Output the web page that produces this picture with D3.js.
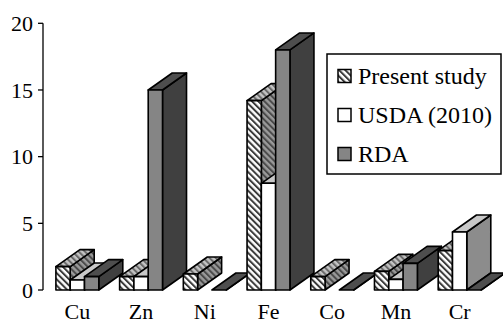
<!DOCTYPE html>
<html>
<head>
<meta charset="utf-8">
<script src="https://cdn.jsdelivr.net/npm/d3@7"></script>
<style>
  html, body { margin: 0; padding: 0; background: #fff; }
  svg { display: block; }
  text { font-family: "Liberation Serif", "Times New Roman", "DejaVu Serif", serif; fill: #000; }
</style>
</head>
<body>
<script>
// Trace-element content (mg) per element, three sources
const categories = ["Cu", "Zn", "Ni", "Fe", "Co", "Mn", "Cr"];
const seriesNames = ["Present study", "USDA (2010)", "RDA"];
const presentStudy = [1.75, 1.0, 1.2, 14.2, 1.0, 1.4, 2.95];
const usda2010 = [0.75, 1.0, null, 8.0, null, 0.8, 4.35];
const rda = [1.0, 15, 0, 18, 0, 2.0, 0];
const yTicks = [0, 5, 10, 15, 20];

const seriesValues = [presentStudy, usda2010, rda];

const W = 503, H = 324;
const DX = 24, DY = -17; // oblique depth projection of each column

const svg = d3.select("body").append("svg")
  .attr("width", W).attr("height", H);

// hatch patterns for the "Present study" columns (front, top, side shades)
const defs = svg.append("defs");
function hatch(id, bg, stripe) {
  const p = defs.append("pattern")
    .attr("id", id)
    .attr("patternUnits", "userSpaceOnUse")
    .attr("width", 4.4).attr("height", 4.4)
    .attr("patternTransform", "rotate(-45)");
  p.append("rect").attr("width", 4.4).attr("height", 4.4).attr("fill", bg);
  p.append("rect").attr("width", 2).attr("height", 4.4).attr("fill", stripe);
}
hatch("hFront", "#ffffff", "#3a3a3a");
hatch("hTop", "#c4c4c4", "#6a6a6a");
hatch("hSide", "#9a9a9a", "#4a4a4a");

const faceStyles = [
  { front: "url(#hFront)", top: "url(#hTop)", side: "url(#hSide)" },
  { front: "#ffffff", top: "#c8c8c8", side: "#8c8c8c" },
  { front: "#858585", top: "#4e4e4e", side: "#404040" }
];

const y = d3.scaleLinear().domain([0, 20]).range([290, 23.3]);
const gx = d3.scaleBand().domain(categories).range([45.5, 491.5]);
const sx = d3.scaleBand().domain(seriesNames).range([10.4, 53.3]);

// value axis
const axisX = 43;
const yAxis = svg.append("g").attr("transform", `translate(${axisX},0)`);
yAxis.append("line")
  .attr("x1", 0).attr("x2", 0)
  .attr("y1", y(20)).attr("y2", y(0))
  .attr("stroke", "#000").attr("stroke-width", 1.3);
yAxis.selectAll("line.tick").data(yTicks).enter().append("line")
  .attr("class", "tick")
  .attr("x1", -5).attr("x2", 0)
  .attr("y1", d => y(d)).attr("y2", d => y(d))
  .attr("stroke", "#000").attr("stroke-width", 1.3);
yAxis.selectAll("text").data(yTicks).enter().append("text")
  .attr("x", -10).attr("y", d => y(d))
  .attr("dy", "0.35em")
  .attr("text-anchor", "end")
  .attr("font-size", 22)
  .text(d => d);

// columns, painted left to right so nearer faces overlap correctly
const bars = [];
categories.forEach((c, ci) => {
  seriesNames.forEach((s, si) => {
    const v = seriesValues[si][ci];
    if (v === null || v === undefined) return;
    bars.push({ cat: c, series: s, si, v });
  });
});

const barG = svg.append("g")
  .attr("stroke", "#000").attr("stroke-width", 1.6).attr("stroke-linejoin", "round");

bars.forEach(b => {
  const x0 = gx(b.cat) + sx(b.series);
  const w = sx.bandwidth();
  const yb = y(0), yt = y(b.v);
  const st = faceStyles[b.si];
  const g = barG.append("g");
  g.append("polygon")
    .attr("points", [[x0 + w, yt], [x0 + w + DX, yt + DY], [x0 + w + DX, yb + DY], [x0 + w, yb]].join(" "))
    .attr("fill", st.side);
  g.append("polygon")
    .attr("points", [[x0, yt], [x0 + w, yt], [x0 + w + DX, yt + DY], [x0 + DX, yt + DY]].join(" "))
    .attr("fill", st.top);
  g.append("rect")
    .attr("x", x0).attr("y", yt)
    .attr("width", w).attr("height", Math.max(0, yb - yt))
    .attr("fill", st.front);
});

// category labels
svg.append("g").selectAll("text").data(categories).enter().append("text")
  .attr("x", d => gx(d) + gx.bandwidth() / 2)
  .attr("y", 319)
  .attr("text-anchor", "middle")
  .attr("font-size", 22)
  .text(d => d);

// legend
const lg = svg.append("g");
lg.append("rect")
  .attr("x", 327).attr("y", 54).attr("width", 174).attr("height", 120)
  .attr("fill", "#fff").attr("stroke", "#000").attr("stroke-width", 1.5);
const rowY = [76, 115, 154];
seriesNames.forEach((s, i) => {
  lg.append("rect")
    .attr("x", 338).attr("y", rowY[i] - 6.5)
    .attr("width", 13).attr("height", 13)
    .attr("fill", faceStyles[i].front)
    .attr("stroke", "#000").attr("stroke-width", 1.5);
  lg.append("text")
    .attr("x", 358).attr("y", rowY[i])
    .attr("dy", "0.35em")
    .attr("font-size", 24)
    .text(s);
});
</script>
</body>
</html>
